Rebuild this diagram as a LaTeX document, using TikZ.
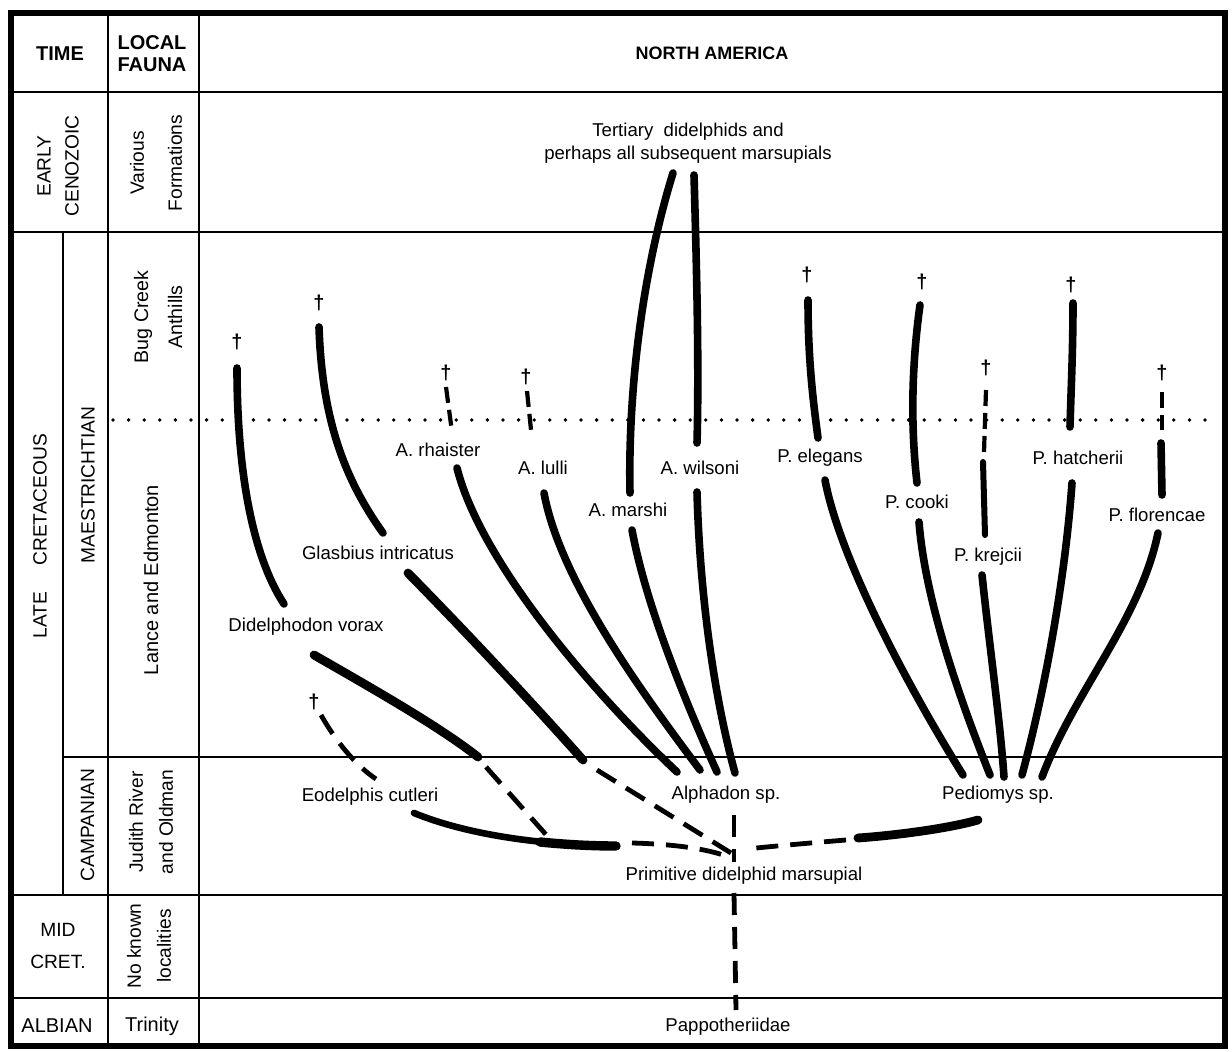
\documentclass[tikz,border=0pt]{standalone}
\usepackage{fontspec}
\setmainfont{Liberation Sans}
\begin{document}
\begin{tikzpicture}[x=0.5pt,y=-0.5pt,
  frame/.style={line width=3pt},
  rule/.style={line width=1.2pt},
  lin/.style={line width=3.8pt, line cap=round},
  linB/.style={line width=4.4pt, line cap=round},
  linT/.style={line width=3pt, line cap=round},
  dsh/.style={line width=2.4pt, dash pattern=on 11pt off 6pt},
  dshT/.style={line width=2.1pt, dash pattern=on 8pt off 3.5pt},
  dots/.style={line width=1.9pt, line cap=round, dash pattern=on 0pt off 7.8pt},
  lab/.style={font=\fontsize{9.3}{11}\selectfont, inner sep=0pt},
  dg/.style={font=\bfseries\fontsize{10}{11}\selectfont, inner sep=0pt},
  hdr/.style={font=\bfseries\fontsize{10}{11}\selectfont, align=center, inner sep=0pt},
  cell/.style={font=\fontsize{9.6}{12}\selectfont, align=center, inner sep=0pt},
  rot/.style={cell, rotate=90},
]
\useasboundingbox (0,0) rectangle (1232,1052);
\fill[white] (0,0) rectangle (1232,1052);

% ---------- table ----------
\draw[frame] (11,13) rectangle (1225,1046);
\draw[rule] (108,13) -- (108,1046);
\draw[rule] (199,13) -- (199,1046);
\draw[rule] (63,232) -- (63,895);
\draw[rule] (11,92) -- (1225,92);
\draw[rule] (11,232) -- (1225,232);
\draw[rule] (63,757) -- (1225,757);
\draw[rule] (11,895) -- (1225,895);
\draw[rule] (11,998) -- (1225,998);
\coordinate (dotL) at (113,420);
\coordinate (dotR) at (1215,420);
\draw[dots] (dotL) -- (dotR);

% ---------- headers and left columns ----------
\node[hdr] (time) at (60,54) {TIME};
\node[hdr] (lfauna) at (152,54) {LOCAL\\FAUNA};
\node[hdr, font=\bfseries\fontsize{9}{11}\selectfont] (namer) at (712,53) {NORTH AMERICA};

\node[rot, font=\fontsize{9.6}{14}\selectfont] (ecen) at (58,166) {EARLY\\CENOZOIC};
\node[rot, font=\fontsize{9.6}{19}\selectfont] (vform) at (156,163) {Various\\Formations};
\node[rot] (latecr) at (40,536) {LATE\hspace{13pt}CRETACEOUS};
\node[rot] (maest) at (88,485) {MAESTRICHTIAN};
\node[rot, font=\fontsize{9.8}{17}\selectfont] (bugcr) at (158,317) {Bug Creek\\Anthills};
\node[rot, font=\fontsize{10}{12}\selectfont] (lance) at (151,580) {Lance and Edmonton};
\node[rot] (campan) at (87.5,825) {CAMPANIAN};
\node[rot, font=\fontsize{9.6}{15}\selectfont] (judith) at (151,822) {Judith River\\and Oldman};
\node[rot, font=\fontsize{9.6}{15}\selectfont] (noknown) at (149,946) {No known\\localities};
\node[cell, font=\fontsize{9.6}{16}\selectfont] (midcret) at (58,946) {MID\\CRET.};
\node[cell, font=\fontsize{10}{12}\selectfont] (albian) at (57,1026) {ALBIAN};
\node[cell, font=\fontsize{10}{12}\selectfont] (trinity) at (152,1026) {Trinity};

% ---------- labels ----------
\node[lab] (tert1) at (688,132) {Tertiary\ \ didelphids and};
\node[lab] (tert2) at (688,155) {perhaps all subsequent marsupials};
\node[lab] (didel) at (306,627) {Didelphodon vorax};
\node[lab] (glasb) at (378,553) {Glasbius intricatus};
\node[lab] (rhai) at (438,450) {A. rhaister};
\node[lab] (lulli) at (543,468) {A. lulli};
\node[lab] (marshi) at (628,510) {A. marshi};
\node[lab] (wilsoni) at (700,468) {A. wilsoni};
\node[lab] (elegans) at (820,458) {P. elegans};
\node[lab] (cooki) at (917,502) {P. cooki};
\node[lab] (krejcii) at (988,557) {P. krejcii};
\node[lab] (hatch) at (1078,458) {P. hatcherii};
\node[lab] (floren) at (1157,515) {P. florencae};
\node[lab] (eodel) at (370,797) {Eodelphis cutleri};
\node[lab] (alpha) at (726,795) {Alphadon sp.};
\node[lab] (pedio) at (998,795) {Pediomys sp.};
\node[lab] (primit) at (744,876) {Primitive didelphid marsupial};
\node[lab] (pappo) at (728,1027) {Pappotheriidae};

% ---------- daggers ----------
\node[dg] (xdv) at (237,342) {†};
\node[dg] (xgl) at (319,303) {†};
\node[dg] (xrh) at (446,373) {†};
\node[dg] (xlu) at (526,377) {†};
\node[dg] (xel) at (807,275) {†};
\node[dg] (xco) at (922,282) {†};
\node[dg] (xkr) at (986,368) {†};
\node[dg] (xha) at (1071,285) {†};
\node[dg] (xfl) at (1162,373) {†};
\node[dg] (xeo) at (314,702) {†};

% ---------- end points ----------
\coordinate (cv) at (731,853);
\coordinate (alp1) at (677,772);
\coordinate (alp2) at (700,770);
\coordinate (alp3) at (717,772);
\coordinate (alp4) at (735,773);
\coordinate (pd1) at (963,775);
\coordinate (pd2) at (990,775);
\coordinate (pd3) at (1004,777);
\coordinate (pd4) at (1022,775);
\coordinate (pd5) at (1042,777);

% Didelphodon
\coordinate (dvA) at (237,368); \coordinate (dvB) at (284,604);
\draw[lin] (dvA) .. controls (237,470) and (252,555) .. (dvB);
\coordinate (dvC) at (314,655); \coordinate (dvD) at (478,757);
\draw[linB] (dvC) .. controls (375,690) and (440,727) .. (dvD);
\coordinate (dvE) at (486,767); \coordinate (dvF) at (549,838);
\draw[dsh] (dvE) -- (dvF);

% Glasbius
\coordinate (glA) at (319,327); \coordinate (glB) at (383,533);
\draw[lin] (glA) .. controls (322,420) and (345,480) .. (glB);
\coordinate (glC) at (408,573); \coordinate (glD) at (583,760);
\draw[linB] (glC) .. controls (462,628) and (528,698) .. (glD);
\coordinate (glE) at (597,770);
\draw[dsh] (glE) -- (cv);

% A. rhaister
\coordinate (rhA) at (446,387); \coordinate (rhB) at (452,432);
\draw[dshT] (rhA) -- (rhB);
\coordinate (rhC) at (457,468);
\draw[lin] (rhC) .. controls (480,560) and (590,690) .. (alp1);

% A. lulli
\coordinate (luA) at (527,391); \coordinate (luB) at (531,430);
\draw[dshT] (luA) -- (luB);
\coordinate (luC) at (544,493);
\draw[lin] (luC) .. controls (560,580) and (640,690) .. (alp2);

% A. marshi
\coordinate (maA) at (673,173); \coordinate (maB) at (630,493);
\draw[lin] (maA) .. controls (640,280) and (628,400) .. (maB);
\coordinate (maC) at (632,530);
\draw[lin] (maC) .. controls (645,600) and (680,690) .. (alp3);

% A. wilsoni
\coordinate (wiA) at (694,175); \coordinate (wiB) at (697,443);
\draw[lin] (wiA) .. controls (697,280) and (699,370) .. (wiB);
\coordinate (wiC) at (697,492);
\draw[lin] (wiC) .. controls (700,600) and (715,700) .. (alp4);

% Alphadon to primitive and below
\coordinate (avA) at (734,815); \coordinate (avB) at (734,862);
\draw[dsh] (avA) -- (avB);
\coordinate (avC) at (734,893); \coordinate (avD) at (736,1010);
\draw[dsh] (avC) -- (avD);

% P. elegans
\coordinate (elA) at (808,300); \coordinate (elB) at (818,438);
\draw[lin] (elA) .. controls (808,360) and (813,400) .. (elB);
\coordinate (elC) at (825,480);
\draw[lin] (elC) .. controls (840,560) and (910,690) .. (pd1);

% P. cooki
\coordinate (coA) at (920,305); \coordinate (coB) at (917,483);
\draw[lin] (coA) .. controls (911,370) and (911,430) .. (coB);
\coordinate (coC) at (919,522);
\draw[lin] (coC) .. controls (925,600) and (960,700) .. (pd2);

% P. krejcii
\coordinate (krA) at (986,390); \coordinate (krB) at (984,452);
\draw[dshT] (krA) -- (krB);
\coordinate (krC) at (983,462); \coordinate (krD) at (985,535);
\draw[linT] (krC) -- (krD);
\coordinate (krE) at (982,575);
\draw[lin] (krE) .. controls (990,650) and (1000,720) .. (pd3);

% P. hatcherii
\coordinate (haA) at (1073,303); \coordinate (haB) at (1070,427);
\draw[lin] (haA) .. controls (1073,350) and (1071,390) .. (haB);
\coordinate (haC) at (1072,483);
\draw[lin] (haC) .. controls (1065,580) and (1045,690) .. (pd4);

% P. florencae
\coordinate (flA) at (1162,392); \coordinate (flB) at (1162,430);
\draw[dshT] (flA) -- (flB);
\coordinate (flC) at (1161,443); \coordinate (flD) at (1162,495);
\draw[lin] (flC) -- (flD);
\coordinate (flE) at (1158,533);
\draw[lin] (flE) .. controls (1140,620) and (1075,690) .. (pd5);

% Pediomys to primitive
\coordinate (pdA) at (978,820); \coordinate (pdB) at (858,838);
\draw[linB] (pdA) .. controls (950,828) and (900,835) .. (pdB);
\coordinate (pdC) at (846,840); \coordinate (cvR) at (747,849);
\draw[dsh] (pdC) .. controls (810,843) and (775,846) .. (cvR);

% Eodelphis
\coordinate (eoA) at (321,715); \coordinate (eoB) at (376,779);
\draw[dsh] (eoA) .. controls (335,740) and (355,765) .. (eoB);
\coordinate (eoC) at (414,813); \coordinate (eoD) at (616,846);
\draw[lin, line width=3.3pt] (eoC) .. controls (460,832) and (530,845) .. (eoD);
\draw[line width=4.7pt, line cap=round] (540,842) .. controls (570,845) and (595,846) .. (eoD);
\coordinate (eoE) at (632,843); \coordinate (cvL) at (729,857);
\draw[dsh] (eoE) .. controls (670,844) and (705,848) .. (cvL);

\end{tikzpicture}
\end{document}
